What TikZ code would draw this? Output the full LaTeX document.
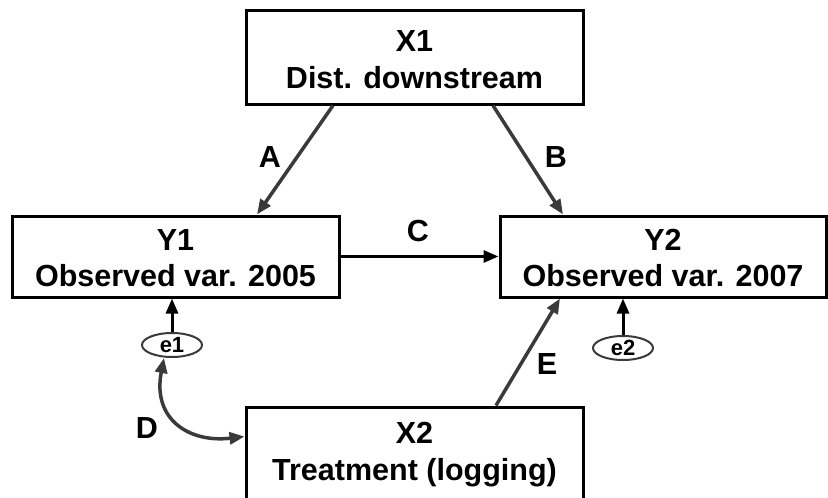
\documentclass[tikz,border=0pt]{standalone}
\usepackage{fontspec}
\setmainfont{Liberation Sans}
\usetikzlibrary{arrows.meta,calc,shapes.geometric}
\definecolor{linegray}{HTML}{3A3A3A}
\begin{document}
\begin{tikzpicture}[x=1pt,y=-1pt,
  varbox/.style={draw=black,line width=3pt,rectangle,inner sep=0pt},
  boxtext/.style={anchor=base,inner sep=0pt,font=\fontsize{30.5}{36}\selectfont\bfseries},
  pathlbl/.style={inner sep=0pt,font=\fontsize{30.5}{36}\selectfont\bfseries},
  errnode/.style={draw=linegray,line width=2pt,ellipse,minimum width=60pt,minimum height=24pt,inner sep=0pt,font=\fontsize{22}{24}\selectfont\bfseries},
  effect/.style={line width=3.5pt,draw=linegray,-{Triangle[length=15pt,width=12pt]}},
  solidarrow/.style={line width=3pt,draw=black,-{Triangle[length=15pt,width=12pt]}},
  corr/.style={line width=3.5pt,draw=linegray,{Triangle[length=15pt,width=12pt]}-{Triangle[length=15pt,width=12pt]}}]
\useasboundingbox (0,0) rectangle (828,498);
\clip (0,0) rectangle (828,498);

% variable boxes
\node[varbox,minimum width=337pt,minimum height=94pt] (x1) at (414.5,57) {};
\node[varbox,minimum width=327pt,minimum height=81pt] (y1) at (175.5,256.5) {};
\node[varbox,minimum width=326pt,minimum height=81pt] (y2) at (663,256.5) {};
\node[varbox,minimum width=337pt,minimum height=94pt] (x2) at (414.5,454) {};

% box captions
\node[boxtext] (x1a) at ($(x1.north)+(0,43)$) {X1};
\node[boxtext] (x1b) at ($(x1.north)+(0,80)$) {Dist. downstream};
\node[boxtext] (y1a) at ($(y1.north)+(0,36)$) {Y1};
\node[boxtext] (y1b) at ($(y1.north)+(0,72)$) {Observed var. 2005};
\node[boxtext] (y2a) at ($(y2.north)+(0,36)$) {Y2};
\node[boxtext] (y2b) at ($(y2.north)+(0,72)$) {Observed var. 2007};
\node[boxtext] (x2a) at ($(x2.north)+(0,38)$) {X2};
\node[boxtext] (x2b) at ($(x2.north)+(0,75)$) {Treatment (logging)};

% error terms
\node[errnode] (e1) at (172,345) {e1};
\node[errnode] (e2) at (623,348) {e2};

% paths
\draw[effect] ($(x1.south)+(-81.5,0)$) -- ($(y1.north)+(81.5,0)$);
\draw[effect] ($(x1.south)+(78.5,0)$) -- ($(y2.north)+(-100,0)$);
\draw[solidarrow] (y1.east) -- (y2.west);
\draw[effect] ($(x2.north)+(81.5,0)$) -- ($(y2.south)+(-103,0)$);
\draw[solidarrow] (e1.north) -- (e1.north |- y1.south);
\draw[solidarrow] (e2.north) -- (e2.north |- y2.south);
\draw[corr] ($(e1.south)+(-8,0)$) .. controls (152,420) and (190,443) .. ($(x2.north west)+(0,31)$);

% path labels
\node[pathlbl] (la) at (270,157) {A};
\node[pathlbl] (lb) at (556,157) {B};
\node[pathlbl] (lc) at (418,231) {C};
\node[pathlbl] (ld) at (147,428) {D};
\node[pathlbl] (le) at (547,364) {E};
\end{tikzpicture}
\end{document}
